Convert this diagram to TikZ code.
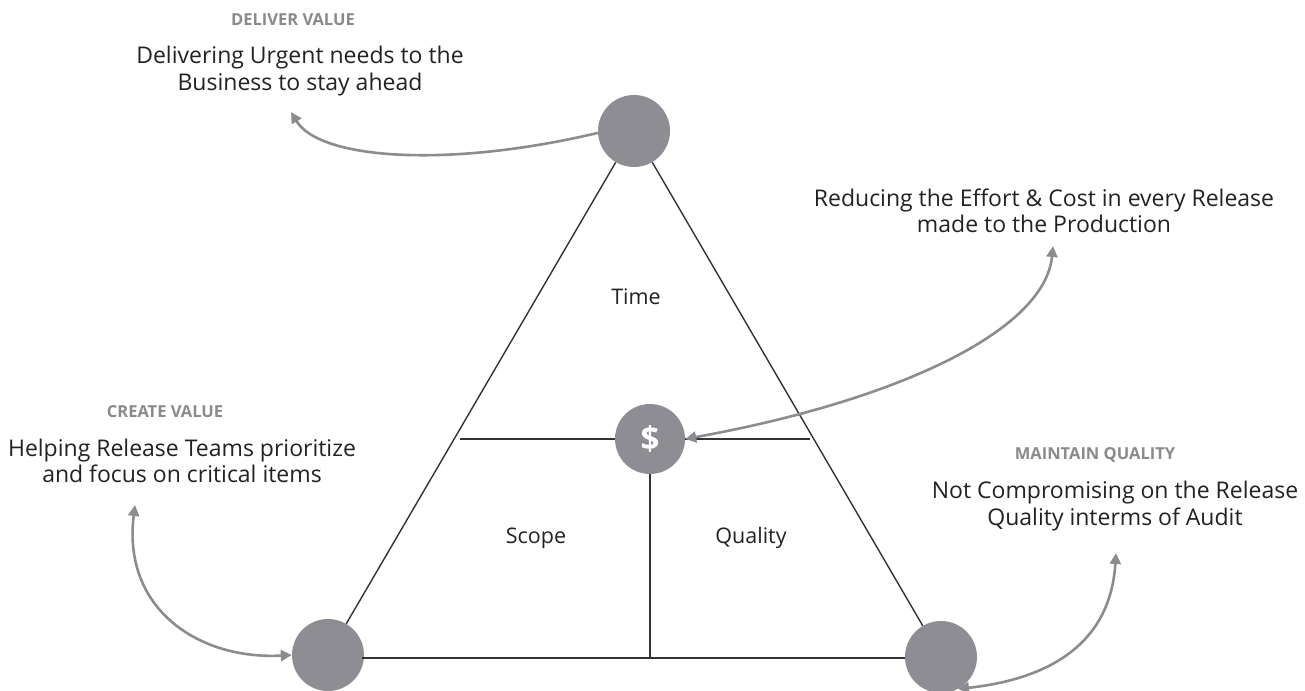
\documentclass[tikz,border=0pt]{standalone}
\usepackage{fontspec}
\setmainfont{Open Sans}
\usetikzlibrary{arrows.meta}
\definecolor{dotgray}{HTML}{8E8D94}
\definecolor{arrgray}{HTML}{8C8C90}
\definecolor{headgray}{HTML}{8A8A8C}
\definecolor{txt}{HTML}{222222}
\definecolor{edge}{HTML}{333333}
\begin{document}
\begin{tikzpicture}[x=1pt,y=-1pt,
  dot/.style={circle,fill=dotgray,minimum size=72pt,inner sep=0pt},
  body/.style={text=txt,font=\fontsize{23}{26.5}\selectfont,align=center,inner sep=0pt},
  head/.style={text=headgray,font=\fontsize{16.5}{18}\selectfont\bfseries,inner sep=0pt},
  part/.style={text=txt,font=\fontsize{21.5}{24}\selectfont,inner sep=0pt},
  tri/.style={draw=edge,line width=1.4pt},
  arr/.style={draw=arrgray,line width=2.6pt,-{Triangle[length=11pt,width=11pt]}},
  arrb/.style={draw=arrgray,line width=2.6pt,{Triangle[length=11pt,width=11pt]}-{Triangle[length=11pt,width=11pt]}}
]
\useasboundingbox[fill=white] (0,0) rectangle (1305,690);
% circles
\node[dot] (top) at (634,131) {};
\node[dot] (bl) at (328,655) {};
\node[dot] (br) at (941,657) {};
\node[dot,minimum size=70pt,text=white,font=\fontsize{33}{33}\selectfont\bfseries] (dol) at (650,439) {\$};
% triangle
\draw[tri] (top) -- (bl);
\draw[tri] (top) -- (br);
\coordinate (bll) at (362,658);
\coordinate (brr) at (905,658);
\draw[tri] (bll) -- (brr);
\coordinate (hl) at (460,439);
\coordinate (hr) at (810,439);
\draw[tri] (hl) -- (dol.west);
\draw[tri] (dol.east) -- (hr);
\coordinate (bm) at (650,658);
\draw[tri] (dol.south) -- (bm);
% region labels
\node[part] (time) at (636,297) {Time};
\node[part] (scope) at (536,538) {Scope};
\node[part] (qual) at (751,538) {Quality};
% texts
\node[head] (h1) at (293,20) {DELIVER VALUE};
\node[body] (t1) at (300,71) {Delivering Urgent needs to the\\Business to stay ahead};
\node[body] (t2) at (1044,211) {Reducing the Effort \& Cost in every Release\\made to the Production};
\node[head] (h3) at (165,412) {CREATE VALUE};
\node[body] (t3) at (182,461) {Helping Release Teams prioritize\\and focus on critical items};
\node[head] (h4) at (1095,455) {MAINTAIN QUALITY};
\node[body] (t4) at (1115,506) {Not Compromising on the Release\\Quality interms of Audit};
% arrows
\coordinate (a1) at (291,112);
\coordinate (a2) at (1053,246);
\coordinate (a3) at (135,505);
\coordinate (a4) at (1116,553);
\draw[arr] (top.183) .. controls (450,168) and (320,160) .. (a1);
\draw[arrb] (a2) .. controls (1045,330) and (900,400) .. (dol.east);
\draw[arrb] (a3) .. controls (122,610) and (200,660) .. (bl.west);
\draw[arrb] (a4) .. controls (1110,650) and (1040,680) .. (br.-62);
\end{tikzpicture}
\end{document}
